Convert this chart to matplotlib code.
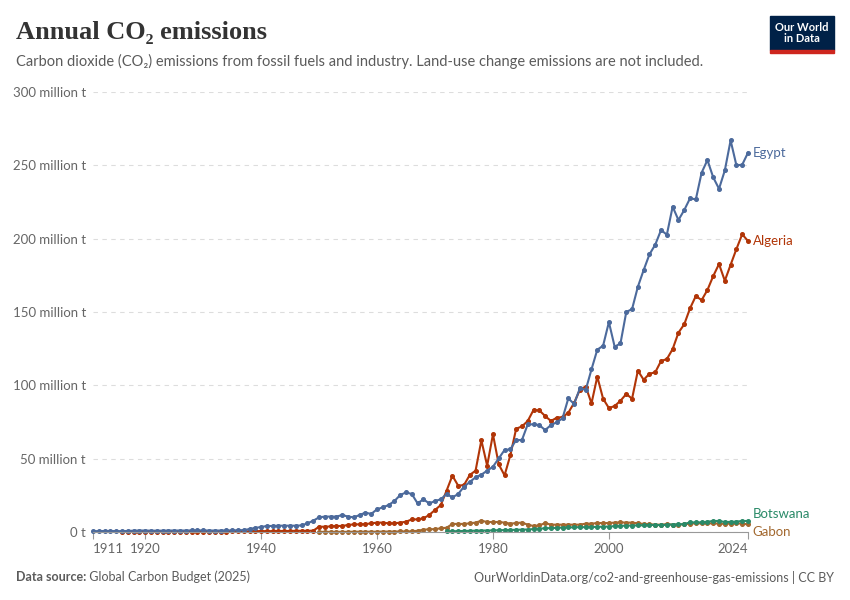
import matplotlib
matplotlib.use("Agg")
import matplotlib.pyplot as plt
import numpy as np
from matplotlib.patches import Rectangle

plt.rcParams['font.family'] = ['Lato', 'DejaVu Sans']

# Annual CO2 emissions, million tonnes
egypt_years = np.arange(1911, 2025)
egypt = [0.6, 0.6, 0.7, 0.7, 0.6, 0.6, 0.7, 0.9, 1.0, 1.0, 0.9, 0.9, 0.9, 1.0,
         1.0, 1.0, 1.0, 1.1, 1.1, 1.1, 1.0, 1.0, 1.0, 1.1, 1.1, 1.2, 1.3,
         2.0, 2.8, 3.4, 4.1, 4.1, 4.3, 4.3, 4.3, 4.3, 4.5, 5.9, 7.7,
         10.0, 10.5, 10.5, 10.5, 11.6, 10.5, 10.0, 11.6, 13.2, 12.3,
         15.5, 16.8, 18.4, 21.1, 25.2, 27.0, 25.9, 19.5, 22.3, 19.5,
         21.1, 22.3, 25.9, 23.6, 25.9, 30.9, 34.1, 37.3, 39.1, 41.8,
         44.5, 50.2, 55.9, 56.4, 62.7, 62.7, 73.4, 73.4, 72.9, 69.5,
         72.9, 74.8, 77.5, 91.1, 87.3, 98.0, 96.8, 110.9, 124.3, 127.0,
         143.1, 126.3, 128.6, 150.0, 152.0, 167.2, 178.6, 189.3, 195.9, 205.9,
         202.7, 221.8, 212.7, 219.5, 227.5, 226.8, 245.0, 253.6, 241.8, 234.0,
         246.5, 267.0, 250.0, 250.4, 258.6]

algeria_years = np.arange(1916, 2025)
algeria = [0.3, 0.3, 0.3, 0.3, 0.3, 0.3, 0.3, 0.3, 0.3, 0.3, 0.3, 0.3, 0.3, 0.3,
           0.3, 0.3, 0.3, 0.3, 0.3, 0.4, 0.4, 0.4,
           0.5, 0.6, 0.6, 0.6, 0.6, 0.7, 0.7, 0.7, 0.8, 0.8, 0.8, 0.9,
           3.6, 3.6, 3.8, 4.1, 4.1, 4.8, 5.2, 5.2, 5.4, 5.9,
           6.4, 6.4, 5.9, 5.9, 6.4, 7.0, 8.6, 8.6, 9.3, 11.6,
           15.0, 18.4, 28.2, 38.4, 31.6, 32.0, 38.9, 41.8, 62.5, 45.2,
           66.6, 46.1, 38.6, 52.3, 70.4, 72.0, 75.7, 83.2, 82.9, 79.1,
           75.7, 77.9, 78.4, 81.3, 88.0, 97.0, 99.2, 87.7, 105.9, 90.9,
           84.5, 85.9, 89.5, 94.1, 90.9, 110.0, 103.8, 107.9, 108.9, 116.6,
           117.9, 124.7, 135.9, 141.6, 152.5, 160.9, 158.1, 165.0, 174.5, 182.7,
           171.3, 182.2, 192.9, 203.0, 198.4]

gabon_years = np.arange(1950, 2025)
gabon = [0.1, 0.1, 0.1, 0.1, 0.1, 0.1, 0.2, 0.2, 0.2, 0.2, 0.2, 0.3, 0.3, 0.3,
         0.4, 0.4, 0.5,
         0.8, 1.6, 1.8, 2.0, 2.5, 2.9, 5.5, 5.5, 5.5, 5.9, 6.4, 7.7, 6.8,
         6.8, 6.8, 6.4, 5.7, 6.1, 6.4, 5.0, 4.1, 4.5, 6.1,
         5.0, 5.0, 5.0, 5.0, 5.0, 5.0, 5.7, 5.7, 6.1, 6.1,
         6.1, 6.4, 6.6, 6.4, 6.4, 5.9, 5.5, 5.3, 5.0, 5.0,
         5.3, 5.0, 5.0, 5.3, 5.7, 5.9, 5.9, 5.9, 5.9, 5.7,
         5.5, 5.7, 5.9, 5.7, 5.2]

botswana_years = np.arange(1972, 2025)
botswana = [0.4, 0.5, 0.6, 0.7, 0.8, 0.9, 1.0, 1.0,
            1.1, 1.2, 1.3, 1.4, 1.5, 1.6, 1.7, 2.0, 2.3, 2.5,
            2.7, 2.8, 3.0, 3.1, 3.2, 3.3, 3.3, 3.4, 3.5, 3.6,
            3.7, 4.0, 4.2, 4.3, 4.4, 4.5, 4.6, 4.7, 4.9, 4.6,
            5.0, 5.1, 5.2, 5.4, 6.6, 6.5, 6.6, 7.0, 7.5, 7.5,
            6.8, 6.9, 7.1, 7.5, 7.5]

yticks = [0, 50, 100, 150, 200, 250, 300]
ytick_labels = ['0 t', '50 million t', '100 million t', '150 million t',
                '200 million t', '250 million t', '300 million t']
xticks = [1911, 1920, 1940, 1960, 1980, 2000, 2024]

fig = plt.figure(figsize=(8.5, 6), dpi=100)
ax = fig.add_axes([93 / 850, 68 / 600, 655 / 850, 440 / 600])

series = [
    ('Gabon', gabon_years, gabon, '#a2682f'),
    ('Botswana', botswana_years, botswana, '#2a8a68'),
    ('Algeria', algeria_years, algeria, '#b13507'),
    ('Egypt', egypt_years, egypt, '#4c6a9c'),
]
for name, yrs, vals, col in series:
    ax.plot(yrs, vals, color=col, lw=1.5, marker='o', ms=2.6, clip_on=False)

# end-of-line labels (Botswana / Gabon nudged apart so they don't overlap)
nudge = {'Egypt': 0, 'Algeria': 0, 'Botswana': 5, 'Gabon': -5.5}
for name, yrs, vals, col in series:
    ax.annotate(name, xy=(yrs[-1], vals[-1]), xytext=(3.5, nudge[name]),
                textcoords='offset points', color=col, fontsize=9.5,
                va='center', ha='left', annotation_clip=False)

ax.set_xlim(1911, 2024)
ax.set_ylim(0, 300)
ax.set_yticks(yticks)
ax.set_yticklabels(ytick_labels)
ax.set_xticks(xticks)
ax.set_xticklabels([str(x) for x in xticks])
xl = ax.get_xticklabels()
xl[0].set_ha('left')
xl[-1].set_ha('right')

for s in ['top', 'right', 'left']:
    ax.spines[s].set_visible(False)
ax.spines['bottom'].set_color('#999999')
ax.spines['bottom'].set_linewidth(0.8)
ax.tick_params(axis='y', length=0, pad=5, labelsize=9.5, labelcolor='#666666')
ax.tick_params(axis='x', length=5, width=0.8, color='#999999', pad=3,
               labelsize=9.5, labelcolor='#666666')
ax.yaxis.grid(True, color='#dddddd', lw=0.8, linestyle=(0, (4, 4)))
ax.set_axisbelow(True)

# title, subtitle
fig.text(16 / 850, 1 - 32 / 600, 'Annual CO₂ emissions', fontsize=19,
         fontweight='bold', family=['Liberation Serif', 'DejaVu Serif'],
         color='#333333', va='center', ha='left')
fig.text(16 / 850, 1 - 61 / 600,
         'Carbon dioxide (CO₂) emissions from fossil fuels and industry. '
         'Land-use change emissions are not included.',
         fontsize=10.5, color='#5b5b5b', va='center', ha='left')

# logo
fig.patches.append(Rectangle((770 / 850, 1 - 50 / 600), 64 / 850, 34 / 600,
                             transform=fig.transFigure, color='#002147'))
fig.patches.append(Rectangle((770 / 850, 1 - 53 / 600), 64 / 850, 3 / 600,
                             transform=fig.transFigure, color='#ce261e'))
fig.text(802 / 850, 1 - 33 / 600, 'Our World\nin Data', color='white',
         fontsize=8, fontweight='bold', ha='center', va='center',
         linespacing=1.0)

# footer
src = fig.text(16 / 850, 1 - 577 / 600, 'Data source:', fontsize=9,
               fontweight='bold', color='#5b5b5b', va='center', ha='left')
ax.annotate(' Global Carbon Budget (2025)', xy=(1, 0.5), xycoords=src,
            fontsize=9, color='#5b5b5b', va='center', ha='left',
            annotation_clip=False)
fig.text(834 / 850, 1 - 577 / 600,
         'OurWorldinData.org/co2-and-greenhouse-gas-emissions | CC BY',
         fontsize=9, color='#5b5b5b', va='center', ha='right')

fig.savefig('out.png', dpi=100)
